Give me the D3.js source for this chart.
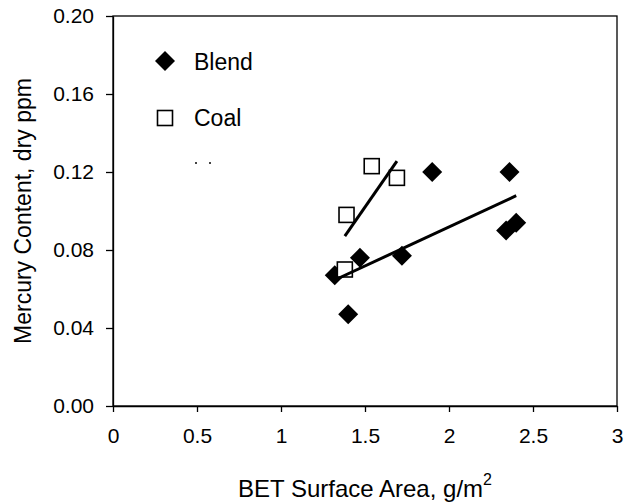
<!DOCTYPE html>
<html>
<head>
<meta charset="utf-8">
<script src="https://cdn.jsdelivr.net/npm/d3@7"></script>
<style>
  html, body { margin: 0; padding: 0; background: #fff; }
  svg { display: block; font-family: "Liberation Sans", Arial, sans-serif; }
</style>
</head>
<body>
<svg id="chart" width="626" height="504"></svg>
<script>
// BET surface area (g/m2) vs. mercury content (dry ppm)
const blendX = [1.32, 1.40, 1.47, 1.72, 1.90, 2.34, 2.36, 2.40];
const blendY = [0.067, 0.047, 0.076, 0.077, 0.120, 0.090, 0.120, 0.094];
const coalX = [1.38, 1.39, 1.54, 1.69];
const coalY = [0.070, 0.098, 0.123, 0.117];

const xTicks = [0, 0.5, 1, 1.5, 2, 2.5, 3];
const xTickLabels = ["0", "0.5", "1", "1.5", "2", "2.5", "3"];
const yTicks = [0, 0.04, 0.08, 0.12, 0.16, 0.20];
const yTickLabels = ["0.00", "0.04", "0.08", "0.12", "0.16", "0.20"];
const seriesNames = ["Blend", "Coal"];

const svg = d3.select("#chart");
const margin = { left: 113, right: 9, top: 16, bottom: 98 };
const W = 626, H = 504;

const x = d3.scaleLinear().domain([0, 3]).range([margin.left, W - margin.right]);
const y = d3.scaleLinear().domain([0, 0.20]).range([H - margin.bottom, margin.top]);

// plot frame
svg.append("rect")
  .attr("x", x(0)).attr("y", y(0.20))
  .attr("width", x(3) - x(0)).attr("height", y(0) - y(0.20))
  .attr("fill", "none").attr("stroke", "#000").attr("stroke-width", 1.3);

// axes
const xAxis = d3.axisBottom(x).tickValues(xTicks)
  .tickFormat((d, i) => xTickLabels[i]).tickSizeInner(6).tickSizeOuter(0).tickPadding(16);
const yAxis = d3.axisLeft(y).tickValues(yTicks)
  .tickFormat((d, i) => yTickLabels[i]).tickSizeInner(7).tickSizeOuter(0).tickPadding(12);

const gx = svg.append("g").attr("transform", `translate(0,${y(0)})`).call(xAxis);
const gy = svg.append("g").attr("transform", `translate(${x(0)},0)`).call(yAxis);
[gx, gy].forEach(g => {
  g.select(".domain").attr("stroke", "#000").attr("stroke-width", 1.3);
  g.selectAll(".tick line").attr("stroke", "#000").attr("stroke-width", 1.3);
  g.selectAll(".tick text").attr("font-size", 21).attr("fill", "#000")
    .attr("font-family", "Liberation Sans, Arial, sans-serif");
});

// axis titles
const xt = svg.append("text")
  .attr("x", (x(0) + x(3)) / 2).attr("y", 497)
  .attr("text-anchor", "middle").attr("font-size", 24).attr("fill", "#000");
xt.append("tspan").text("BET Surface Area, g/m");
xt.append("tspan").attr("dy", -12).attr("font-size", 16).text("2");

svg.append("text")
  .attr("transform", `translate(31,${(y(0) + y(0.20)) / 2}) rotate(-90)`)
  .attr("text-anchor", "middle").attr("font-size", 23).attr("fill", "#000")
  .text("Mercury Content, dry ppm");

// least-squares trend line drawn across the data's x extent
function trend(xs, ys) {
  const mx = d3.mean(xs), my = d3.mean(ys);
  const sxy = d3.sum(xs, (v, i) => (v - mx) * (ys[i] - my));
  const sxx = d3.sum(xs, v => (v - mx) * (v - mx));
  const b = sxy / sxx, a = my - b * mx;
  const [x0, x1] = d3.extent(xs);
  return [[x0, a + b * x0], [x1, a + b * x1]];
}
const line = d3.line().x(d => x(d[0])).y(d => y(d[1]));

const diamond = d3.symbol().type(d3.symbolSquare).size(200);

// blend diamonds
svg.append("g").selectAll("path")
  .data(blendX.map((v, i) => [v, blendY[i]]))
  .join("path")
  .attr("d", diamond)
  .attr("transform", d => `translate(${x(d[0])},${y(d[1])}) rotate(45)`)
  .attr("fill", "#000");

// coal squares
const sq = 15;
svg.append("g").selectAll("rect")
  .data(coalX.map((v, i) => [v, coalY[i]]))
  .join("rect")
  .attr("x", d => x(d[0]) - sq / 2).attr("y", d => y(d[1]) - sq / 2)
  .attr("width", sq).attr("height", sq)
  .attr("fill", "#fff").attr("stroke", "#000").attr("stroke-width", 1.6);

// trend lines
svg.append("path").datum(trend(coalX, coalY)).attr("d", line)
  .attr("fill", "none").attr("stroke", "#000").attr("stroke-width", 3);
svg.append("path").datum(trend(blendX, blendY)).attr("d", line)
  .attr("fill", "none").attr("stroke", "#000").attr("stroke-width", 3);

// legend
const lg = svg.append("g");
lg.append("path").attr("d", diamond).attr("transform", "translate(165,61) rotate(45)").attr("fill", "#000");
lg.append("text").attr("x", 194).attr("y", 70).attr("font-size", 23).text(seriesNames[0]);
lg.append("rect").attr("x", 165 - sq / 2).attr("y", 118 - sq / 2).attr("width", sq).attr("height", sq)
  .attr("fill", "#fff").attr("stroke", "#000").attr("stroke-width", 1.6);
lg.append("text").attr("x", 194).attr("y", 126).attr("font-size", 23).text(seriesNames[1]);
// trend line legend entry, clipped to two stubs
lg.selectAll("rect.stub").data([196, 210]).join("rect").attr("class", "stub")
  .attr("x", d => d - 1).attr("y", 162).attr("width", 2).attr("height", 2).attr("fill", "#444");
</script>
</body>
</html>
